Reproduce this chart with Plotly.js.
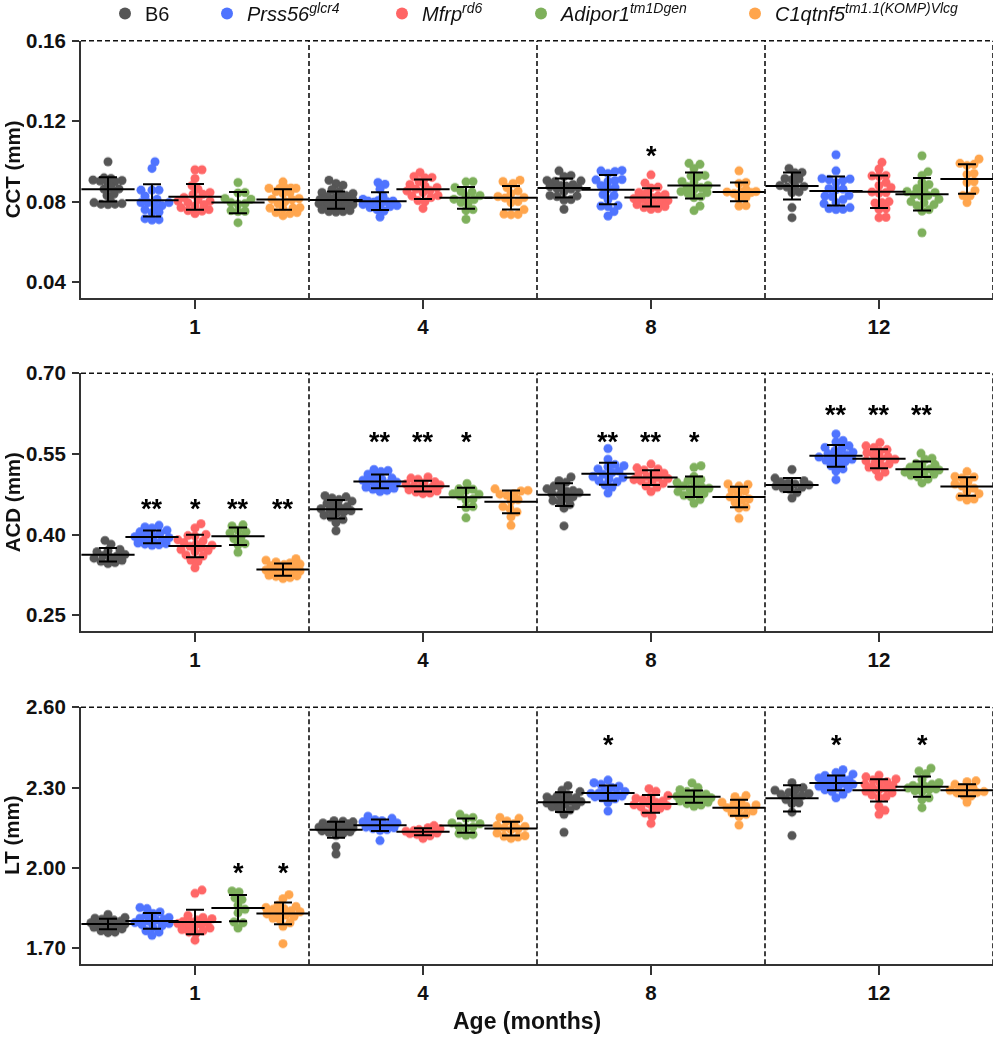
<!DOCTYPE html>
<html><head><meta charset="utf-8">
<script src="https://cdn.plot.ly/plotly-3.0.1.min.js"></script>
<style>body{margin:0;background:#fff}#chart{width:998px;height:1050px}</style>
</head><body><div id="chart"></div>
<script>
// ---------- data ----------
const ages = ['1', '4', '8', '12'];
const genotypeNames = [
  'B6',
  '<i>Prss56</i><sup><i>glcr4</i></sup>',
  '<i>Mfrp</i><sup><i>rd6</i></sup>',
  '<i>Adipor1</i><sup><i>tm1Dgen</i></sup>',
  '<i>C1qtnf5</i><sup><i>tm1.1(KOMP)Vlcg</i></sup>'
];
const colors = ['#262626', '#1d4cff', '#ff3a3a', '#5a9a2e', '#ff8c1a'];

// CCT (mm), per age [1,4,8,12]
const cctB6 = [
  [0.0998,0.0918,0.0915,0.0900,0.0902,0.0907,0.0905,0.0900,0.0863,0.0870,0.0862,0.0830,0.0837,0.0787,0.0785,0.0787,0.0795,0.0790,0.0800],
  [0.0906,0.0890,0.0881,0.0860,0.0850,0.0845,0.0840,0.0830,0.0825,0.0820,0.0815,0.0810,0.0808,0.0805,0.0800,0.0800,0.0798,0.0795,0.0790,0.0785,0.0780,0.0775,0.0770,0.0765,0.0760,0.0755,0.0750,0.0750,0.0748],
  [0.0953,0.0930,0.0925,0.0905,0.0903,0.0900,0.0885,0.0880,0.0878,0.0875,0.0870,0.0865,0.0862,0.0850,0.0830,0.0828,0.0825,0.0810,0.0808,0.0762],
  [0.0965,0.0945,0.0943,0.0915,0.0912,0.0910,0.0880,0.0878,0.0875,0.0872,0.0848,0.0845,0.0770,0.0720]
];
const cctPrss56 = [
  [0.0998,0.0965,0.0857,0.0857,0.0857,0.0828,0.0812,0.0795,0.0795,0.0795,0.0780,0.0778,0.0760,0.0748,0.0745,0.0710,0.0715,0.0708],
  [0.0895,0.0886,0.0861,0.0828,0.0812,0.0805,0.0803,0.0803,0.0800,0.0798,0.0790,0.0786,0.0780,0.0775,0.0770,0.0760,0.0753,0.0723],
  [0.0955,0.0953,0.0950,0.0940,0.0910,0.0908,0.0905,0.0900,0.0880,0.0870,0.0865,0.0835,0.0830,0.0810,0.0780,0.0778,0.0775,0.0750,0.0728],
  [0.1033,0.0953,0.0915,0.0912,0.0910,0.0905,0.0895,0.0865,0.0862,0.0860,0.0830,0.0828,0.0825,0.0810,0.0795,0.0790,0.0770,0.0765,0.0762,0.0760]
];
const cctMfrp = [
  [0.0958,0.0958,0.0915,0.0880,0.0862,0.0845,0.0836,0.0836,0.0820,0.0810,0.0803,0.0803,0.0795,0.0785,0.0778,0.0770,0.0760,0.0753,0.0755,0.0740],
  [0.0945,0.0925,0.0920,0.0918,0.0900,0.0885,0.0878,0.0870,0.0862,0.0855,0.0853,0.0845,0.0830,0.0828,0.0820,0.0805,0.0800,0.0766],
  [0.0933,0.0892,0.0872,0.0868,0.0845,0.0840,0.0835,0.0828,0.0820,0.0815,0.0812,0.0805,0.0800,0.0795,0.0790,0.0785,0.0775,0.0770,0.0765,0.0762],
  [0.0995,0.0962,0.0930,0.0928,0.0925,0.0895,0.0880,0.0870,0.0848,0.0845,0.0842,0.0800,0.0795,0.0793,0.0765,0.0762,0.0722,0.0720]
];
const cctAdipor1 = [
  [0.0895,0.0845,0.0843,0.0815,0.0812,0.0795,0.0790,0.0788,0.0755,0.0750,0.0752,0.0695],
  [0.0900,0.0898,0.0870,0.0850,0.0848,0.0830,0.0825,0.0812,0.0810,0.0795,0.0790,0.0760,0.0756,0.0712],
  [0.0990,0.0985,0.0965,0.0930,0.0928,0.0925,0.0900,0.0895,0.0880,0.0875,0.0870,0.0860,0.0850,0.0845,0.0840,0.0825,0.0820,0.0778,0.0755],
  [0.1028,0.0948,0.0930,0.0895,0.0885,0.0865,0.0860,0.0850,0.0845,0.0835,0.0830,0.0828,0.0812,0.0800,0.0795,0.0785,0.0780,0.0760,0.0753,0.0645]
];
const cctC1qtnf5 = [
  [0.0898,0.0868,0.0866,0.0866,0.0866,0.0866,0.0850,0.0845,0.0840,0.0815,0.0812,0.0810,0.0800,0.0790,0.0770,0.0768,0.0768,0.0765,0.0745,0.0745,0.0740,0.0730],
  [0.0906,0.0900,0.0890,0.0870,0.0852,0.0840,0.0825,0.0820,0.0818,0.0800,0.0795,0.0760,0.0738,0.0736,0.0735],
  [0.0953,0.0895,0.0890,0.0860,0.0850,0.0848,0.0848,0.0845,0.0840,0.0820,0.0815,0.0780,0.0778],
  [0.1012,0.0990,0.0985,0.0980,0.0940,0.0935,0.0900,0.0895,0.0855,0.0830,0.0828,0.0795]
];

// ACD (mm)
const acdB6 = [
  [0.389,0.382,0.370,0.372,0.368,0.363,0.361,0.360,0.358,0.356,0.352,0.350,0.348,0.346],
  [0.472,0.470,0.468,0.465,0.462,0.458,0.455,0.452,0.450,0.448,0.446,0.444,0.442,0.440,0.436,0.432,0.428,0.422,0.407],
  [0.507,0.500,0.497,0.490,0.487,0.485,0.482,0.480,0.478,0.476,0.474,0.470,0.467,0.463,0.460,0.456,0.449,0.416],
  [0.521,0.505,0.500,0.498,0.496,0.494,0.492,0.490,0.488,0.486,0.484,0.478,0.468]
];
const acdPrss56 = [
  [0.417,0.414,0.412,0.408,0.405,0.403,0.401,0.398,0.396,0.394,0.392,0.390,0.388,0.386,0.384,0.383,0.382,0.381,0.380],
  [0.521,0.519,0.517,0.512,0.508,0.505,0.503,0.501,0.499,0.497,0.495,0.493,0.490,0.488,0.486,0.484,0.482,0.480],
  [0.560,0.540,0.530,0.528,0.526,0.522,0.518,0.515,0.512,0.508,0.506,0.503,0.500,0.498,0.492,0.488,0.477],
  [0.587,0.575,0.572,0.565,0.562,0.560,0.556,0.553,0.550,0.548,0.546,0.544,0.542,0.540,0.538,0.535,0.532,0.528,0.522,0.518,0.502]
];
const acdMfrp = [
  [0.420,0.412,0.400,0.398,0.397,0.390,0.388,0.385,0.382,0.380,0.378,0.375,0.372,0.370,0.368,0.362,0.360,0.352,0.350,0.338],
  [0.507,0.505,0.503,0.498,0.496,0.494,0.492,0.490,0.488,0.487,0.485,0.483,0.481,0.479,0.477,0.476],
  [0.531,0.524,0.522,0.520,0.514,0.512,0.510,0.508,0.506,0.504,0.502,0.500,0.498,0.495,0.490,0.488,0.480],
  [0.571,0.565,0.562,0.558,0.555,0.552,0.548,0.545,0.542,0.540,0.537,0.534,0.531,0.528,0.525,0.520,0.516,0.508]
];
const acdAdipor1 = [
  [0.418,0.416,0.408,0.405,0.403,0.395,0.392,0.383,0.381,0.367],
  [0.495,0.485,0.484,0.482,0.476,0.475,0.472,0.466,0.464,0.452,0.450,0.431],
  [0.528,0.525,0.508,0.502,0.500,0.497,0.494,0.490,0.488,0.486,0.484,0.480,0.478,0.476,0.473,0.470,0.465,0.458],
  [0.551,0.542,0.540,0.532,0.530,0.528,0.525,0.522,0.520,0.518,0.516,0.514,0.512,0.510,0.507,0.503,0.496]
];
const acdC1qtnf5 = [
  [0.355,0.352,0.349,0.347,0.345,0.344,0.342,0.340,0.338,0.336,0.334,0.332,0.330,0.328,0.326,0.325,0.324,0.323,0.322,0.320,0.318],
  [0.485,0.482,0.481,0.476,0.475,0.473,0.465,0.462,0.452,0.448,0.442,0.433,0.417],
  [0.494,0.493,0.490,0.483,0.481,0.475,0.470,0.466,0.464,0.460,0.451,0.449,0.430],
  [0.517,0.508,0.507,0.505,0.498,0.494,0.490,0.486,0.480,0.476,0.470,0.466,0.464]
];

// LT (mm)
const ltB6 = [
  [1.826,1.815,1.812,1.808,1.805,1.802,1.798,1.795,1.792,1.790,1.788,1.785,1.782,1.778,1.772,1.765,1.760,1.758],
  [2.176,2.174,2.172,2.168,2.165,2.162,2.158,2.155,2.152,2.150,2.148,2.145,2.142,2.140,2.138,2.135,2.132,2.128,2.122,2.080,2.052],
  [2.307,2.290,2.285,2.272,2.268,2.265,2.262,2.258,2.255,2.250,2.248,2.245,2.242,2.238,2.232,2.228,2.220,2.216,2.200,2.133],
  [2.318,2.300,2.293,2.290,2.282,2.278,2.275,2.270,2.265,2.255,2.243,2.240,2.208,2.121]
];
const ltPrss56 = [
  [1.852,1.848,1.835,1.830,1.822,1.815,1.812,1.808,1.805,1.800,1.796,1.792,1.788,1.784,1.778,1.765,1.760,1.748],
  [2.193,2.185,2.180,2.176,2.172,2.168,2.165,2.162,2.158,2.155,2.152,2.150,2.147,2.143,2.140,2.102],
  [2.328,2.318,2.312,2.305,2.300,2.290,2.285,2.280,2.278,2.275,2.272,2.268,2.265,2.262,2.258,2.245,2.212],
  [2.367,2.356,2.350,2.345,2.340,2.336,2.332,2.328,2.325,2.320,2.316,2.312,2.308,2.305,2.300,2.296,2.292,2.285,2.275,2.262]
];
const ltMfrp = [
  [1.917,1.905,1.822,1.815,1.810,1.805,1.800,1.798,1.795,1.792,1.788,1.785,1.780,1.775,1.770,1.765,1.760,1.756,1.730],
  [2.158,2.150,2.146,2.143,2.140,2.137,2.135,2.133,2.130,2.128,2.125,2.120,2.110],
  [2.296,2.286,2.270,2.265,2.260,2.255,2.250,2.245,2.240,2.236,2.232,2.228,2.222,2.218,2.205,2.192,2.166],
  [2.346,2.340,2.332,2.328,2.322,2.318,2.312,2.308,2.302,2.296,2.292,2.286,2.280,2.272,2.265,2.262,2.230,2.215,2.200]
];
const ltAdipor1 = [
  [1.914,1.910,1.888,1.882,1.860,1.845,1.832,1.798,1.795,1.775],
  [2.200,2.188,2.185,2.168,2.165,2.155,2.153,2.150,2.128,2.125,2.122],
  [2.317,2.300,2.292,2.285,2.280,2.275,2.272,2.268,2.265,2.262,2.260,2.258,2.255,2.250,2.245,2.240,2.235,2.230],
  [2.372,2.362,2.352,2.330,2.318,2.312,2.308,2.305,2.302,2.298,2.295,2.292,2.288,2.285,2.262,2.255,2.225]
];
const ltC1qtnf5 = [
  [1.900,1.885,1.860,1.856,1.852,1.848,1.845,1.840,1.836,1.832,1.828,1.824,1.818,1.812,1.806,1.795,1.782,1.717],
  [2.188,2.185,2.175,2.165,2.158,2.155,2.150,2.145,2.142,2.130,2.120,2.118,2.115,2.110],
  [2.270,2.266,2.250,2.245,2.240,2.235,2.230,2.225,2.220,2.212,2.205,2.200,2.193,2.160],
  [2.325,2.322,2.312,2.300,2.298,2.295,2.290,2.285,2.282,2.280,2.270,2.268,2.245]
];

// significance labels per age x genotype
const sigCCT = [['','','','',''],['','','','',''],['','','*','',''],['','','','','']];
const sigACD = [['','**','*','**','**'],['','**','**','*',''],['','**','**','*',''],['','**','**','**','']];
const sigLT  = [['','','','*','*'],['','','','',''],['','*','','',''],['','*','','*','']];

// ---------- layout constants ----------
const W = 998, H = 1050;
const FONT = 'Liberation Sans, Arial, Helvetica, sans-serif';
const xLeft = 81, xRight = 993;
const unitPx = (xRight - xLeft) / 4;
const genoOffsetPx = [-87, -43, 0, 43, 88];

const panels = [
  {data:[cctB6,cctPrss56,cctMfrp,cctAdipor1,cctC1qtnf5], top:40.7, bottom:298, range:[0.032,0.16],
   tickvals:[0.04,0.08,0.12,0.16], ticktext:['0.04','0.08','0.12','0.16'], title:'CCT (mm)', sig:sigCCT, starY:[0.106,0.106,0.1055,0.106]},
  {data:[acdB6,acdPrss56,acdMfrp,acdAdipor1,acdC1qtnf5], top:373.3, bottom:631.3, range:[0.22,0.70],
   tickvals:[0.25,0.40,0.55,0.70], ticktext:['0.25','0.40','0.55','0.70'], title:'ACD (mm)', sig:sigACD, starY:[0.459,0.584,0.584,0.6336]},
  {data:[ltB6,ltPrss56,ltMfrp,ltAdipor1,ltC1qtnf5], top:707.3, bottom:964.3, range:[1.64,2.60],
   tickvals:[1.70,2.00,2.30,2.60], ticktext:['1.70','2.00','2.30','2.60'], title:'LT (mm)', sig:sigLT, starY:[2.002,2.48,2.48,2.48]}
];

// deterministic beeswarm layout (pixel offsets), limited half-width
function swarm(vals, pxPerUnit) {
  const D = 7, maxW = 17;
  const order = vals.map((v, i) => i).sort((a, b) => vals[a] - vals[b]);
  const placed = [];
  const out = new Array(vals.length).fill(0);
  const cands = [0];
  for (let k = 1; k <= maxW; k++) cands.push(k, -k);
  order.forEach(i => {
    const yp = vals[i] * pxPerUnit;
    let best = 0, bestD = -1;
    for (const c of cands) {
      let md = Infinity;
      for (const p of placed) { const d = Math.hypot(p.x - c, p.y - yp); if (d < md) md = d; }
      if (md >= D) { best = c; bestD = md; break; }
      if (md > bestD + 0.01) { bestD = md; best = c; }
    }
    placed.push({x: best, y: yp});
    out[i] = best;
  });
  return out;
}
const mean = a => a.reduce((s, v) => s + v, 0) / a.length;
const sd = a => { const m = mean(a); return Math.sqrt(a.reduce((s, v) => s + (v - m) ** 2, 0) / (a.length - 1)); };

const traces = [];
const layout = {
  width: W, height: H, margin: {l: 0, r: 0, t: 0, b: 0, autoexpand: false},
  paper_bgcolor: '#fff', plot_bgcolor: '#fff',
  font: {family: FONT, color: '#111'},
  shapes: [], annotations: []
};

panels.forEach((P, pi) => {
  const sfx = pi === 0 ? '' : String(pi + 1);
  const xa = 'x' + sfx, ya = 'y' + sfx;
  const pxPerUnit = (P.bottom - P.top) / (P.range[1] - P.range[0]);
  const markerTraces = [], meanTraces = [];
  P.data.forEach((series, gi) => {
    const xs = [], ys = [], mx = [], my = [], ms = [];
    series.forEach((vals, ai) => {
      const offs = swarm(vals, pxPerUnit);
      vals.forEach((v, k) => { xs.push(ai + (genoOffsetPx[gi] + offs[k]) / unitPx); ys.push(v); });
      mx.push(ai + genoOffsetPx[gi] / unitPx); my.push(mean(vals)); ms.push(sd(vals));
    });
    markerTraces.push({
      type: 'scatter', mode: 'markers', x: xs, y: ys, xaxis: xa, yaxis: ya,
      name: genotypeNames[gi], legend: gi === 0 ? 'legend' : 'legend' + (gi + 1),
      showlegend: pi === 0, opacity: 0.78,
      marker: {color: colors[gi], size: 9, line: {width: 0}}, hoverinfo: 'y'
    });
    meanTraces.push({
      type: 'scatter', mode: 'markers', x: mx, y: my, xaxis: xa, yaxis: ya, showlegend: false,
      marker: {symbol: 'line-ew', size: 38, color: '#000', line: {width: 2, color: '#000'}},
      error_y: {type: 'data', array: ms, visible: true, color: '#000', thickness: 2, width: 9},
      hoverinfo: 'skip'
    });
  });
  traces.push(...markerTraces, ...meanTraces);

  const yDom = [1 - P.bottom / H, 1 - P.top / H];
  layout['xaxis' + sfx] = {
    domain: [xLeft / W, xRight / W], range: [-0.5, 3.5], anchor: ya,
    tickmode: 'array', tickvals: [0, 1, 2, 3], ticktext: ages,
    ticks: 'outside', ticklen: 9, tickwidth: 2, tickcolor: '#333',
    showline: true, linecolor: '#333', linewidth: 2, showgrid: false, zeroline: false,
    tickfont: {family: FONT, size: 20.5, weight: 'bold', color: '#111'}, ticklabelstandoff: 0,
    automargin: false, fixedrange: true
  };
  layout['yaxis' + sfx] = {
    domain: yDom, range: P.range, anchor: xa,
    tickmode: 'array', tickvals: P.tickvals, ticktext: P.ticktext,
    ticks: 'outside', ticklen: 7, tickwidth: 2, tickcolor: '#333',
    showline: true, linecolor: '#333', linewidth: 2, showgrid: false, zeroline: false,
    tickfont: {family: FONT, size: 20.5, weight: 'bold', color: '#111'}, ticklabelstandoff: 2,
    automargin: false, fixedrange: true
  };
  const dash = {color: '#111', width: 1.6, dash: '5px,3px'};
  layout.shapes.push({type: 'line', xref: xa, yref: ya + ' domain', x0: -0.5, x1: 3.5, y0: 1, y1: 1, line: dash});
  [0.5, 1.5, 2.5, 3.5].forEach(xv => layout.shapes.push({type: 'line', xref: xa, yref: ya + ' domain', x0: xv, x1: xv, y0: 0, y1: 1, line: dash}));

  layout.annotations.push({
    xref: 'paper', yref: 'paper', x: 12 / W, y: 1 - (P.top + P.bottom) / 2 / H,
    text: P.title, textangle: -90, showarrow: false, xanchor: 'center', yanchor: 'middle',
    font: {family: FONT, size: 20.5, weight: 'bold', color: '#111'}
  });
  P.sig.forEach((row, ai) => row.forEach((s, gi) => {
    if (!s) return;
    layout.annotations.push({
      xref: xa, yref: ya, x: ai + genoOffsetPx[gi] / unitPx, y: P.starY[ai], text: s, showarrow: false,
      xanchor: 'center', yanchor: 'middle', yshift: -6,
      font: {family: FONT, size: 27, weight: 'bold', color: '#000'}
    });
  }));
});

layout.annotations.push({
  xref: 'paper', yref: 'paper', x: 527 / W, y: 1 - 1021 / H, text: 'Age (months)', showarrow: false,
  xanchor: 'center', yanchor: 'middle', font: {family: FONT, size: 23, weight: 'bold', color: '#111'}
});

// legends, one per genotype
const legendMarkerX = [125, 227, 402, 541, 755];
legendMarkerX.forEach((mxp, gi) => {
  const key = gi === 0 ? 'legend' : 'legend' + (gi + 1);
  layout[key] = {
    x: (mxp - 20) / W, y: 1 + 6 / H, xanchor: 'left', yanchor: 'top', orientation: 'h',
    bgcolor: 'rgba(0,0,0,0)', borderwidth: 0, itemsizing: 'constant',
    font: {family: FONT, size: 20, color: '#111'}
  };
});

Plotly.newPlot('chart', traces, layout, {staticPlot: true});
</script>
</body></html>
